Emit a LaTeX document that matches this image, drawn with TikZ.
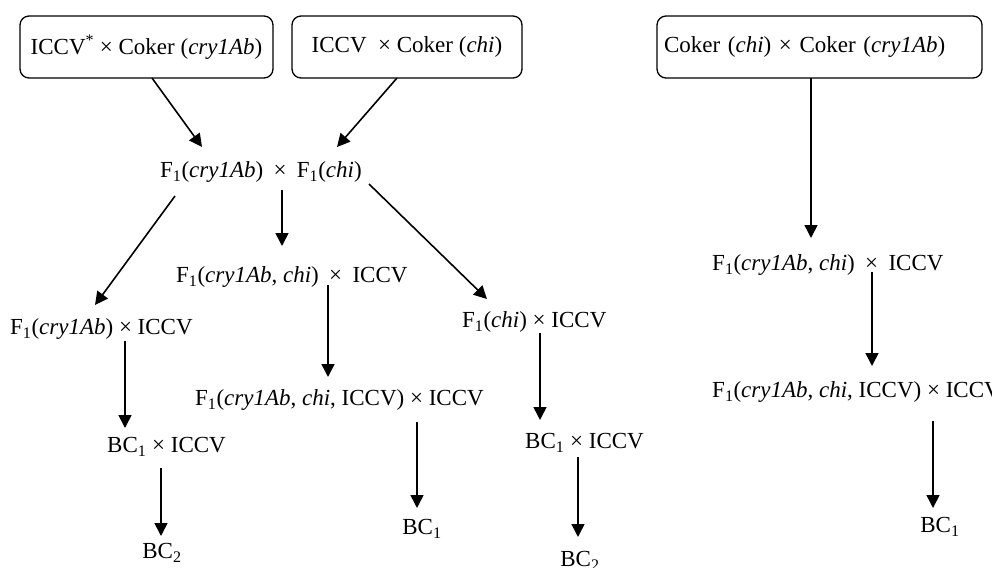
\documentclass[tikz,border=0pt]{standalone}
\usepackage{fontspec}
\setmainfont{Liberation Serif}
\usetikzlibrary{arrows.meta}
\newcommand{\Fo}{F\textsubscript{1}}
\newcommand{\BCo}{BC\textsubscript{1}}
\newcommand{\BCt}{BC\textsubscript{2}}
\newcommand{\tm}{\hspace{0.45em}×\hspace{0.45em}}
\begin{document}
\begin{tikzpicture}[x=1pt,y=-1pt,
  every node/.style={font=\fontsize{23}{27}\selectfont, inner sep=0pt},
  cross/.style={draw, line width=1.3pt, rounded corners=9pt, minimum height=62pt, inner sep=0pt},
  lbl/.style={anchor=west},
  arr/.style={line width=1.6pt, -{Triangle[length=13pt,width=13pt]}}]
\useasboundingbox (0,0) rectangle (992,567);
% boxes
\node[cross, minimum width=253pt] (b1) at (146.5,47) {ICCV\textsuperscript{*} × Coker (\textit{cry1Ab})};
\node[cross, minimum width=230pt] (b2) at (407,47) {ICCV \ × Coker (\textit{chi})};
\node[cross, text width=325pt, align=left, inner xsep=0pt] (b3) at (819.5,47) {\hspace{7pt}Coker (\textit{chi}) × Coker (\textit{cry1Ab})};
% texts
\node[lbl] (t0) at (160,172) {\Fo(\textit{cry1Ab})\tm\Fo(\textit{chi})};
\node[lbl] (t1) at (176,277) {\Fo(\textit{cry1Ab}, \textit{chi})\tm ICCV};
\node[lbl] (t2) at (10,329) {\Fo(\textit{cry1Ab}) × ICCV};
\node[lbl] (t3) at (195,400) {\Fo(\textit{cry1Ab}, \textit{chi}, ICCV) × ICCV};
\node[lbl] (t4) at (107,447) {\BCo{} × ICCV};
\node (t5) at (162,553) {\BCt};
\node (t6) at (422,529) {\BCo};
\node[lbl] (t7) at (462,322) {\Fo(\textit{chi}) × ICCV};
\node[lbl] (t8) at (525,443) {\BCo{} × ICCV};
\node (t9) at (580,561) {\BCt};
\node[lbl] (r1) at (712,265) {\Fo(\textit{cry1Ab}, \textit{chi})\tm ICCV};
\node[lbl] (r2) at (712,392) {\Fo(\textit{cry1Ab}, \textit{chi}, ICCV) × ICCV};
\node (r3) at (940,527) {\BCo};
% connector end points
\coordinate (a1s) at (152,78);  \coordinate (a1e) at (202,147);
\coordinate (a2s) at (397,78);  \coordinate (a2e) at (337,147);
\coordinate (a3s) at (175,196); \coordinate (a3e) at (95,305);
\coordinate (a4s) at (282,190); \coordinate (a4e) at (282,246);
\coordinate (a5s) at (369,184); \coordinate (a5e) at (487,299);
\coordinate (a6s) at (328,285); \coordinate (a6e) at (328,377);
\coordinate (a7s) at (417,422); \coordinate (a7e) at (417,508);
\coordinate (a8s) at (125,341); \coordinate (a8e) at (125,428);
\coordinate (a9s) at (161,468); \coordinate (a9e) at (161,536);
\coordinate (a10s) at (540,333); \coordinate (a10e) at (540,420);
\coordinate (a11s) at (578,457); \coordinate (a11e) at (578,537);
\coordinate (a12s) at (811,78); \coordinate (a12e) at (811,238);
\coordinate (a13s) at (872,272); \coordinate (a13e) at (872,366);
\coordinate (a14s) at (933,421); \coordinate (a14e) at (933,508);
% connectors
\draw[arr] (a1s) -- (a1e);
\draw[arr] (a2s) -- (a2e);
\draw[arr] (a3s) -- (a3e);
\draw[arr] (a4s) -- (a4e);
\draw[arr] (a5s) -- (a5e);
\draw[arr] (a6s) -- (a6e);
\draw[arr] (a7s) -- (a7e);
\draw[arr] (a8s) -- (a8e);
\draw[arr] (a9s) -- (a9e);
\draw[arr] (a10s) -- (a10e);
\draw[arr] (a11s) -- (a11e);
\draw[arr] (a12s) -- (a12e);
\draw[arr] (a13s) -- (a13e);
\draw[arr] (a14s) -- (a14e);
\end{tikzpicture}
\end{document}
